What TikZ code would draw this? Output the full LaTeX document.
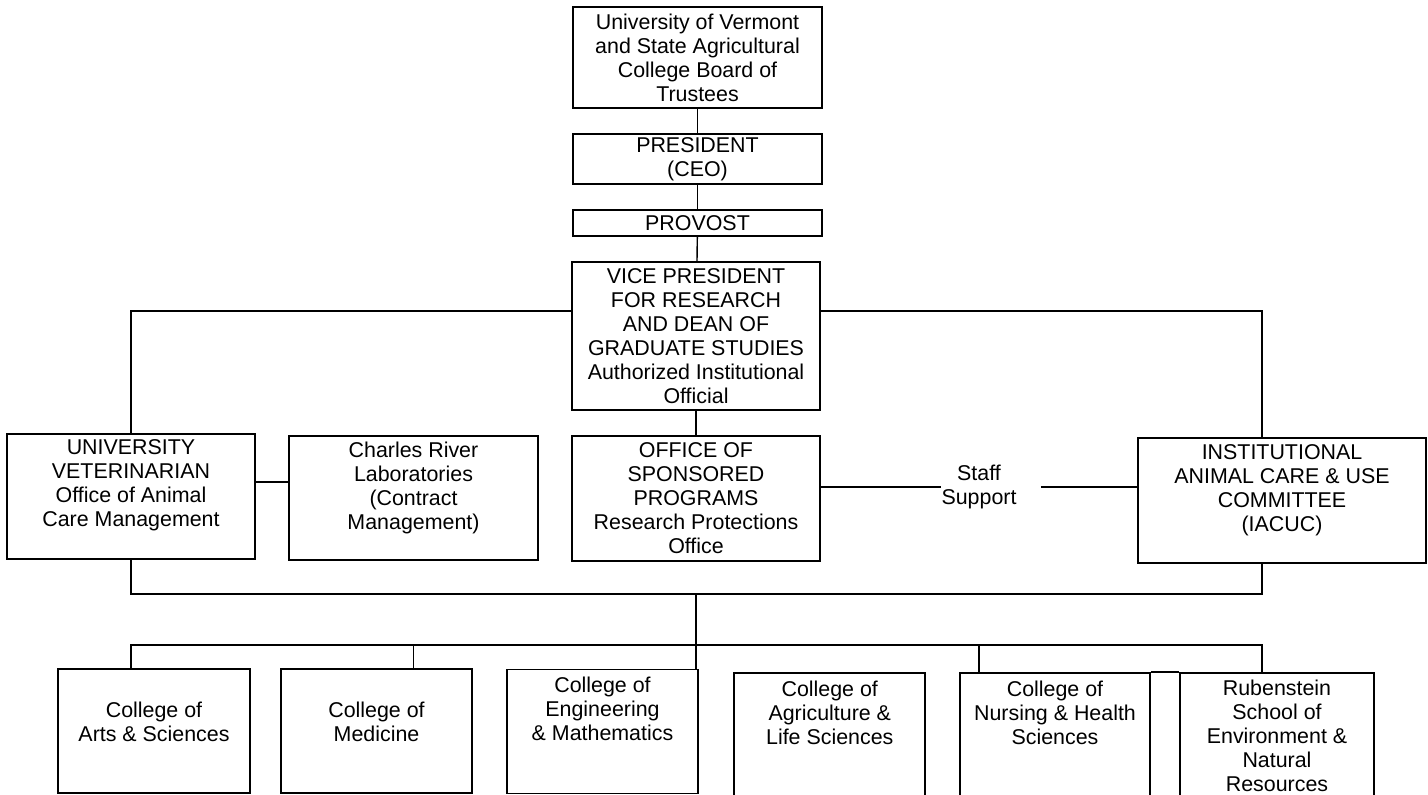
\documentclass[tikz,border=0pt]{standalone}
\usepackage{fontspec}
\setmainfont{Liberation Sans}
\usetikzlibrary{positioning}

\tikzset{
  box/.style={draw, line width=0.9pt, inner sep=0pt},
  wide/.style={box, minimum width=124.5pt},
  college/.style={box, minimum width=95.5pt, minimum height=62pt},
  txt/.style={align=center, inner sep=0pt, font=\fontsize{10.7}{12}\selectfont},
  link/.style={line width=0.7pt},
}

\begin{document}
\begin{tikzpicture}[x=0.5pt, y=-0.5pt]
  \useasboundingbox (0,0) rectangle (1428,795);

  % top of the chain
  \node[wide, txt, minimum height=50.5pt] (trustees) at (697.5,57.5)
    {University of Vermont\\and State Agricultural\\College Board of\\Trustees};
  \node[wide, txt, minimum height=25pt] (president) at (697.5,159) {PRESIDENT\\(CEO)};
  \node[wide, txt, minimum height=13pt] (provost) at (697.5,223) {PROVOST};
  \node[wide, txt, minimum width=124pt, minimum height=74pt] (vp) at (696,336)
    {VICE PRESIDENT\\FOR RESEARCH\\AND DEAN OF\\GRADUATE STUDIES\\Authorized Institutional\\Official};

  % middle row
  \node[wide, minimum width=124pt, minimum height=62.5pt] (vet) at (131,496.5) {};
  \node[txt, below=3pt of vet.north] (vettext)
    {UNIVERSITY\\VETERINARIAN\\Office of Animal\\Care Management};
  \node[wide, minimum height=62pt] (crl) at (413.5,498) {};
  \node[txt, below=3pt of crl.north] (crltext)
    {Charles River\\Laboratories\\(Contract\\Management)};
  \node[wide, txt, minimum width=124pt, minimum height=62.5pt] (osp) at (696,498.5)
    {OFFICE OF\\SPONSORED\\PROGRAMS\\Research Protections\\Office};
  \node[box, minimum width=144.25pt, minimum height=62.5pt] (iacuc) at (1282,500.5) {};
  \node[txt, below=3.5pt of iacuc.north] (iacuctext)
    {INSTITUTIONAL\\ANIMAL CARE \& USE\\COMMITTEE\\(IACUC)};
  \node[txt] (staff) at (979,487) {Staff\\Support};

  % colleges
  \node[college, minimum width=96pt] (arts) at (154,731) {};
  \node[txt, below=16.5pt of arts.north] {College of\\Arts \& Sciences};
  \node[college] (med) at (376.5,731) {};
  \node[txt, below=16.5pt of med.north] {College of\\Medicine};
  \node[college] (eng) at (602.5,731.5) {};
  \node[txt, below=4pt of eng.north] {College of\\Engineering\\\& Mathematics};
  \node[college] (agri) at (829.75,735) {};
  \node[txt, below=4pt of agri.north] {College of\\Agriculture \&\\Life Sciences};
  \node[college, minimum width=95pt] (nurs) at (1055,735) {};
  \node[txt, below=4pt of nurs.north] {College of\\Nursing \& Health\\Sciences};
  \node[college, minimum width=97pt] (rub) at (1277,735) {};
  \node[txt, below=3.5pt of rub.north] {Rubenstein\\School of\\Environment \&\\Natural\\Resources};
  \draw[box] (nurs.north east) -- (rub.north west);

  % chain of command
  \draw[link] (trustees) -- (president);
  \draw[link] (president) -- (provost);
  \draw[link] (provost) -- (vp);
  \draw[link] (vp) -- (osp);
  \draw[link] (vet.north) |- ([yshift=-25pt]vp.north west);
  \draw[link] ([yshift=-25pt]vp.north east) -| ([xshift=-10pt]iacuc.north);
  \draw[link, line width=1pt] ([yshift=7pt]vet.east) -- ([yshift=7pt]vet.east -| crl.west);
  \draw[link, line width=1pt] (osp.east |- staff) -- (staff.west);
  \draw[link] ([xshift=12pt]staff.east) -- (iacuc.west |- staff);

  % buses to the colleges
  \coordinate (bus) at (696,594);
  \coordinate (cbus) at (696,645);
  \draw[link] (vet.south) |- (bus) -| ([xshift=-10pt]iacuc.south);
  \draw[link] (bus) -- (bus |- eng.north);
  \draw[link] ([xshift=-10pt]iacuc.south |- rub.north) |- (cbus) -| (vet.south |- arts.north);
  \draw[line width=0.4pt] (crl.south |- cbus) -- (crl.south |- med.north);
  \draw[link] ([xshift=-38pt]nurs.north |- cbus) -- ([xshift=-38pt]nurs.north);
\end{tikzpicture}
\end{document}
